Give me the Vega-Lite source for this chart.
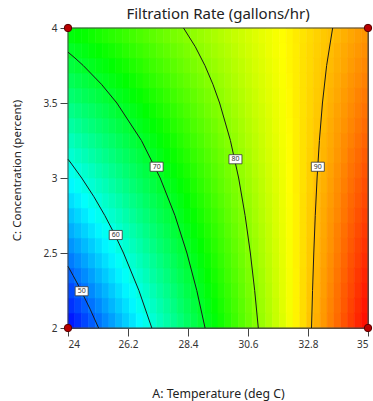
{
"$schema":"https://vega.github.io/schema/vega-lite/v6.json",
"width":300,"height":300,
"autosize":{"type":"none"},
"padding":{"left":68,"top":28,"right":5,"bottom":73},
"background":"white",
"title":{"text":"Filtration Rate (gallons/hr)","fontSize":15,"fontWeight":"normal","font":"Noto Sans","color":"#222","offset":0},
"config":{
 "view":{"stroke":"#444","strokeWidth":1},
 "axis":{"domainColor":"#444","tickColor":"#444","tickSize":8,"labelFont":"Noto Sans","labelFontSize":10,"labelColor":"#333","titleFont":"Noto Sans","titleFontWeight":"normal","titleColor":"#222","grid":false,"zindex":1},
 "axisX":{"labelPadding":3,"titlePadding":38,"titleFontSize":12.3},
 "axisY":{"labelPadding":3,"titlePadding":20,"titleFontSize":11.5,"titleY":142}
},
"datasets":{
"grid":[
{"t":24.125,"c":2.05,"r":45.6},{"t":24.375,"c":2.05,"r":46.8},{"t":24.625,"c":2.05,"r":48.1},{"t":24.875,"c":2.05,"r":49.4},{"t":25.125,"c":2.05,"r":50.6},{"t":25.375,"c":2.05,"r":51.9},{"t":25.625,"c":2.05,"r":53.1},{"t":25.875,"c":2.05,"r":54.4},{"t":26.125,"c":2.05,"r":55.7},{"t":26.375,"c":2.05,"r":56.9},{"t":26.625,"c":2.05,"r":58.2},{"t":26.875,"c":2.05,"r":59.4},{"t":27.125,"c":2.05,"r":60.7},{"t":27.375,"c":2.05,"r":62.0},{"t":27.625,"c":2.05,"r":63.2},{"t":27.875,"c":2.05,"r":64.5},{"t":28.125,"c":2.05,"r":65.7},{"t":28.375,"c":2.05,"r":67.0},{"t":28.625,"c":2.05,"r":68.3},{"t":28.875,"c":2.05,"r":69.5},{"t":29.125,"c":2.05,"r":70.8},{"t":29.375,"c":2.05,"r":72.0},{"t":29.625,"c":2.05,"r":73.3},{"t":29.875,"c":2.05,"r":74.6},{"t":30.125,"c":2.05,"r":75.8},{"t":30.375,"c":2.05,"r":77.1},{"t":30.625,"c":2.05,"r":78.4},{"t":30.875,"c":2.05,"r":79.6},{"t":31.125,"c":2.05,"r":80.9},{"t":31.375,"c":2.05,"r":82.1},{"t":31.625,"c":2.05,"r":83.4},{"t":31.875,"c":2.05,"r":84.6},{"t":32.125,"c":2.05,"r":85.9},{"t":32.375,"c":2.05,"r":87.2},{"t":32.625,"c":2.05,"r":88.4},{"t":32.875,"c":2.05,"r":89.7},{"t":33.125,"c":2.05,"r":91.0},{"t":33.375,"c":2.05,"r":92.2},{"t":33.625,"c":2.05,"r":93.5},{"t":33.875,"c":2.05,"r":94.7},{"t":34.125,"c":2.05,"r":96.0},{"t":34.375,"c":2.05,"r":97.2},{"t":34.625,"c":2.05,"r":98.5},{"t":34.875,"c":2.05,"r":99.8},
{"t":24.125,"c":2.15,"r":47.0},{"t":24.375,"c":2.15,"r":48.2},{"t":24.625,"c":2.15,"r":49.4},{"t":24.875,"c":2.15,"r":50.6},{"t":25.125,"c":2.15,"r":51.8},{"t":25.375,"c":2.15,"r":53.1},{"t":25.625,"c":2.15,"r":54.3},{"t":25.875,"c":2.15,"r":55.5},{"t":26.125,"c":2.15,"r":56.7},{"t":26.375,"c":2.15,"r":57.9},{"t":26.625,"c":2.15,"r":59.2},{"t":26.875,"c":2.15,"r":60.4},{"t":27.125,"c":2.15,"r":61.6},{"t":27.375,"c":2.15,"r":62.8},{"t":27.625,"c":2.15,"r":64.0},{"t":27.875,"c":2.15,"r":65.2},{"t":28.125,"c":2.15,"r":66.5},{"t":28.375,"c":2.15,"r":67.7},{"t":28.625,"c":2.15,"r":68.9},{"t":28.875,"c":2.15,"r":70.1},{"t":29.125,"c":2.15,"r":71.3},{"t":29.375,"c":2.15,"r":72.6},{"t":29.625,"c":2.15,"r":73.8},{"t":29.875,"c":2.15,"r":75.0},{"t":30.125,"c":2.15,"r":76.2},{"t":30.375,"c":2.15,"r":77.4},{"t":30.625,"c":2.15,"r":78.7},{"t":30.875,"c":2.15,"r":79.9},{"t":31.125,"c":2.15,"r":81.1},{"t":31.375,"c":2.15,"r":82.3},{"t":31.625,"c":2.15,"r":83.5},{"t":31.875,"c":2.15,"r":84.8},{"t":32.125,"c":2.15,"r":86.0},{"t":32.375,"c":2.15,"r":87.2},{"t":32.625,"c":2.15,"r":88.4},{"t":32.875,"c":2.15,"r":89.6},{"t":33.125,"c":2.15,"r":90.8},{"t":33.375,"c":2.15,"r":92.1},{"t":33.625,"c":2.15,"r":93.3},{"t":33.875,"c":2.15,"r":94.5},{"t":34.125,"c":2.15,"r":95.7},{"t":34.375,"c":2.15,"r":96.9},{"t":34.625,"c":2.15,"r":98.2},{"t":34.875,"c":2.15,"r":99.4},
{"t":24.125,"c":2.25,"r":48.3},{"t":24.375,"c":2.25,"r":49.5},{"t":24.625,"c":2.25,"r":50.7},{"t":24.875,"c":2.25,"r":51.9},{"t":25.125,"c":2.25,"r":53.1},{"t":25.375,"c":2.25,"r":54.2},{"t":25.625,"c":2.25,"r":55.4},{"t":25.875,"c":2.25,"r":56.6},{"t":26.125,"c":2.25,"r":57.8},{"t":26.375,"c":2.25,"r":58.9},{"t":26.625,"c":2.25,"r":60.1},{"t":26.875,"c":2.25,"r":61.3},{"t":27.125,"c":2.25,"r":62.5},{"t":27.375,"c":2.25,"r":63.7},{"t":27.625,"c":2.25,"r":64.8},{"t":27.875,"c":2.25,"r":66.0},{"t":28.125,"c":2.25,"r":67.2},{"t":28.375,"c":2.25,"r":68.4},{"t":28.625,"c":2.25,"r":69.5},{"t":28.875,"c":2.25,"r":70.7},{"t":29.125,"c":2.25,"r":71.9},{"t":29.375,"c":2.25,"r":73.1},{"t":29.625,"c":2.25,"r":74.3},{"t":29.875,"c":2.25,"r":75.4},{"t":30.125,"c":2.25,"r":76.6},{"t":30.375,"c":2.25,"r":77.8},{"t":30.625,"c":2.25,"r":79.0},{"t":30.875,"c":2.25,"r":80.1},{"t":31.125,"c":2.25,"r":81.3},{"t":31.375,"c":2.25,"r":82.5},{"t":31.625,"c":2.25,"r":83.7},{"t":31.875,"c":2.25,"r":84.9},{"t":32.125,"c":2.25,"r":86.0},{"t":32.375,"c":2.25,"r":87.2},{"t":32.625,"c":2.25,"r":88.4},{"t":32.875,"c":2.25,"r":89.6},{"t":33.125,"c":2.25,"r":90.7},{"t":33.375,"c":2.25,"r":91.9},{"t":33.625,"c":2.25,"r":93.1},{"t":33.875,"c":2.25,"r":94.3},{"t":34.125,"c":2.25,"r":95.5},{"t":34.375,"c":2.25,"r":96.6},{"t":34.625,"c":2.25,"r":97.8},{"t":34.875,"c":2.25,"r":99.0},
{"t":24.125,"c":2.35,"r":49.7},{"t":24.375,"c":2.35,"r":50.9},{"t":24.625,"c":2.35,"r":52.0},{"t":24.875,"c":2.35,"r":53.1},{"t":25.125,"c":2.35,"r":54.3},{"t":25.375,"c":2.35,"r":55.4},{"t":25.625,"c":2.35,"r":56.5},{"t":25.875,"c":2.35,"r":57.7},{"t":26.125,"c":2.35,"r":58.8},{"t":26.375,"c":2.35,"r":60.0},{"t":26.625,"c":2.35,"r":61.1},{"t":26.875,"c":2.35,"r":62.2},{"t":27.125,"c":2.35,"r":63.4},{"t":27.375,"c":2.35,"r":64.5},{"t":27.625,"c":2.35,"r":65.6},{"t":27.875,"c":2.35,"r":66.8},{"t":28.125,"c":2.35,"r":67.9},{"t":28.375,"c":2.35,"r":69.0},{"t":28.625,"c":2.35,"r":70.2},{"t":28.875,"c":2.35,"r":71.3},{"t":29.125,"c":2.35,"r":72.5},{"t":29.375,"c":2.35,"r":73.6},{"t":29.625,"c":2.35,"r":74.7},{"t":29.875,"c":2.35,"r":75.9},{"t":30.125,"c":2.35,"r":77.0},{"t":30.375,"c":2.35,"r":78.1},{"t":30.625,"c":2.35,"r":79.3},{"t":30.875,"c":2.35,"r":80.4},{"t":31.125,"c":2.35,"r":81.5},{"t":31.375,"c":2.35,"r":82.7},{"t":31.625,"c":2.35,"r":83.8},{"t":31.875,"c":2.35,"r":85.0},{"t":32.125,"c":2.35,"r":86.1},{"t":32.375,"c":2.35,"r":87.2},{"t":32.625,"c":2.35,"r":88.4},{"t":32.875,"c":2.35,"r":89.5},{"t":33.125,"c":2.35,"r":90.6},{"t":33.375,"c":2.35,"r":91.8},{"t":33.625,"c":2.35,"r":92.9},{"t":33.875,"c":2.35,"r":94.1},{"t":34.125,"c":2.35,"r":95.2},{"t":34.375,"c":2.35,"r":96.3},{"t":34.625,"c":2.35,"r":97.5},{"t":34.875,"c":2.35,"r":98.6},
{"t":24.125,"c":2.45,"r":51.1},{"t":24.375,"c":2.45,"r":52.2},{"t":24.625,"c":2.45,"r":53.3},{"t":24.875,"c":2.45,"r":54.4},{"t":25.125,"c":2.45,"r":55.5},{"t":25.375,"c":2.45,"r":56.6},{"t":25.625,"c":2.45,"r":57.7},{"t":25.875,"c":2.45,"r":58.8},{"t":26.125,"c":2.45,"r":59.9},{"t":26.375,"c":2.45,"r":61.0},{"t":26.625,"c":2.45,"r":62.1},{"t":26.875,"c":2.45,"r":63.1},{"t":27.125,"c":2.45,"r":64.2},{"t":27.375,"c":2.45,"r":65.3},{"t":27.625,"c":2.45,"r":66.4},{"t":27.875,"c":2.45,"r":67.5},{"t":28.125,"c":2.45,"r":68.6},{"t":28.375,"c":2.45,"r":69.7},{"t":28.625,"c":2.45,"r":70.8},{"t":28.875,"c":2.45,"r":71.9},{"t":29.125,"c":2.45,"r":73.0},{"t":29.375,"c":2.45,"r":74.1},{"t":29.625,"c":2.45,"r":75.2},{"t":29.875,"c":2.45,"r":76.3},{"t":30.125,"c":2.45,"r":77.4},{"t":30.375,"c":2.45,"r":78.5},{"t":30.625,"c":2.45,"r":79.6},{"t":30.875,"c":2.45,"r":80.7},{"t":31.125,"c":2.45,"r":81.8},{"t":31.375,"c":2.45,"r":82.9},{"t":31.625,"c":2.45,"r":84.0},{"t":31.875,"c":2.45,"r":85.1},{"t":32.125,"c":2.45,"r":86.2},{"t":32.375,"c":2.45,"r":87.3},{"t":32.625,"c":2.45,"r":88.3},{"t":32.875,"c":2.45,"r":89.4},{"t":33.125,"c":2.45,"r":90.5},{"t":33.375,"c":2.45,"r":91.6},{"t":33.625,"c":2.45,"r":92.7},{"t":33.875,"c":2.45,"r":93.8},{"t":34.125,"c":2.45,"r":94.9},{"t":34.375,"c":2.45,"r":96.0},{"t":34.625,"c":2.45,"r":97.1},{"t":34.875,"c":2.45,"r":98.2},
{"t":24.125,"c":2.55,"r":52.5},{"t":24.375,"c":2.55,"r":53.5},{"t":24.625,"c":2.55,"r":54.6},{"t":24.875,"c":2.55,"r":55.6},{"t":25.125,"c":2.55,"r":56.7},{"t":25.375,"c":2.55,"r":57.8},{"t":25.625,"c":2.55,"r":58.8},{"t":25.875,"c":2.55,"r":59.9},{"t":26.125,"c":2.55,"r":60.9},{"t":26.375,"c":2.55,"r":62.0},{"t":26.625,"c":2.55,"r":63.0},{"t":26.875,"c":2.55,"r":64.1},{"t":27.125,"c":2.55,"r":65.1},{"t":27.375,"c":2.55,"r":66.2},{"t":27.625,"c":2.55,"r":67.2},{"t":27.875,"c":2.55,"r":68.3},{"t":28.125,"c":2.55,"r":69.3},{"t":28.375,"c":2.55,"r":70.4},{"t":28.625,"c":2.55,"r":71.5},{"t":28.875,"c":2.55,"r":72.5},{"t":29.125,"c":2.55,"r":73.6},{"t":29.375,"c":2.55,"r":74.6},{"t":29.625,"c":2.55,"r":75.7},{"t":29.875,"c":2.55,"r":76.7},{"t":30.125,"c":2.55,"r":77.8},{"t":30.375,"c":2.55,"r":78.8},{"t":30.625,"c":2.55,"r":79.9},{"t":30.875,"c":2.55,"r":80.9},{"t":31.125,"c":2.55,"r":82.0},{"t":31.375,"c":2.55,"r":83.1},{"t":31.625,"c":2.55,"r":84.1},{"t":31.875,"c":2.55,"r":85.2},{"t":32.125,"c":2.55,"r":86.2},{"t":32.375,"c":2.55,"r":87.3},{"t":32.625,"c":2.55,"r":88.3},{"t":32.875,"c":2.55,"r":89.4},{"t":33.125,"c":2.55,"r":90.4},{"t":33.375,"c":2.55,"r":91.5},{"t":33.625,"c":2.55,"r":92.5},{"t":33.875,"c":2.55,"r":93.6},{"t":34.125,"c":2.55,"r":94.7},{"t":34.375,"c":2.55,"r":95.7},{"t":34.625,"c":2.55,"r":96.8},{"t":34.875,"c":2.55,"r":97.8},
{"t":24.125,"c":2.65,"r":53.9},{"t":24.375,"c":2.65,"r":54.9},{"t":24.625,"c":2.65,"r":55.9},{"t":24.875,"c":2.65,"r":56.9},{"t":25.125,"c":2.65,"r":57.9},{"t":25.375,"c":2.65,"r":58.9},{"t":25.625,"c":2.65,"r":59.9},{"t":25.875,"c":2.65,"r":61.0},{"t":26.125,"c":2.65,"r":62.0},{"t":26.375,"c":2.65,"r":63.0},{"t":26.625,"c":2.65,"r":64.0},{"t":26.875,"c":2.65,"r":65.0},{"t":27.125,"c":2.65,"r":66.0},{"t":27.375,"c":2.65,"r":67.0},{"t":27.625,"c":2.65,"r":68.0},{"t":27.875,"c":2.65,"r":69.1},{"t":28.125,"c":2.65,"r":70.1},{"t":28.375,"c":2.65,"r":71.1},{"t":28.625,"c":2.65,"r":72.1},{"t":28.875,"c":2.65,"r":73.1},{"t":29.125,"c":2.65,"r":74.1},{"t":29.375,"c":2.65,"r":75.1},{"t":29.625,"c":2.65,"r":76.1},{"t":29.875,"c":2.65,"r":77.2},{"t":30.125,"c":2.65,"r":78.2},{"t":30.375,"c":2.65,"r":79.2},{"t":30.625,"c":2.65,"r":80.2},{"t":30.875,"c":2.65,"r":81.2},{"t":31.125,"c":2.65,"r":82.2},{"t":31.375,"c":2.65,"r":83.2},{"t":31.625,"c":2.65,"r":84.3},{"t":31.875,"c":2.65,"r":85.3},{"t":32.125,"c":2.65,"r":86.3},{"t":32.375,"c":2.65,"r":87.3},{"t":32.625,"c":2.65,"r":88.3},{"t":32.875,"c":2.65,"r":89.3},{"t":33.125,"c":2.65,"r":90.3},{"t":33.375,"c":2.65,"r":91.3},{"t":33.625,"c":2.65,"r":92.4},{"t":33.875,"c":2.65,"r":93.4},{"t":34.125,"c":2.65,"r":94.4},{"t":34.375,"c":2.65,"r":95.4},{"t":34.625,"c":2.65,"r":96.4},{"t":34.875,"c":2.65,"r":97.4},
{"t":24.125,"c":2.75,"r":55.2},{"t":24.375,"c":2.75,"r":56.2},{"t":24.625,"c":2.75,"r":57.2},{"t":24.875,"c":2.75,"r":58.2},{"t":25.125,"c":2.75,"r":59.1},{"t":25.375,"c":2.75,"r":60.1},{"t":25.625,"c":2.75,"r":61.1},{"t":25.875,"c":2.75,"r":62.0},{"t":26.125,"c":2.75,"r":63.0},{"t":26.375,"c":2.75,"r":64.0},{"t":26.625,"c":2.75,"r":65.0},{"t":26.875,"c":2.75,"r":65.9},{"t":27.125,"c":2.75,"r":66.9},{"t":27.375,"c":2.75,"r":67.9},{"t":27.625,"c":2.75,"r":68.8},{"t":27.875,"c":2.75,"r":69.8},{"t":28.125,"c":2.75,"r":70.8},{"t":28.375,"c":2.75,"r":71.8},{"t":28.625,"c":2.75,"r":72.7},{"t":28.875,"c":2.75,"r":73.7},{"t":29.125,"c":2.75,"r":74.7},{"t":29.375,"c":2.75,"r":75.6},{"t":29.625,"c":2.75,"r":76.6},{"t":29.875,"c":2.75,"r":77.6},{"t":30.125,"c":2.75,"r":78.6},{"t":30.375,"c":2.75,"r":79.5},{"t":30.625,"c":2.75,"r":80.5},{"t":30.875,"c":2.75,"r":81.5},{"t":31.125,"c":2.75,"r":82.5},{"t":31.375,"c":2.75,"r":83.4},{"t":31.625,"c":2.75,"r":84.4},{"t":31.875,"c":2.75,"r":85.4},{"t":32.125,"c":2.75,"r":86.3},{"t":32.375,"c":2.75,"r":87.3},{"t":32.625,"c":2.75,"r":88.3},{"t":32.875,"c":2.75,"r":89.3},{"t":33.125,"c":2.75,"r":90.2},{"t":33.375,"c":2.75,"r":91.2},{"t":33.625,"c":2.75,"r":92.2},{"t":33.875,"c":2.75,"r":93.1},{"t":34.125,"c":2.75,"r":94.1},{"t":34.375,"c":2.75,"r":95.1},{"t":34.625,"c":2.75,"r":96.1},{"t":34.875,"c":2.75,"r":97.0},
{"t":24.125,"c":2.85,"r":56.6},{"t":24.375,"c":2.85,"r":57.5},{"t":24.625,"c":2.85,"r":58.5},{"t":24.875,"c":2.85,"r":59.4},{"t":25.125,"c":2.85,"r":60.3},{"t":25.375,"c":2.85,"r":61.3},{"t":25.625,"c":2.85,"r":62.2},{"t":25.875,"c":2.85,"r":63.1},{"t":26.125,"c":2.85,"r":64.1},{"t":26.375,"c":2.85,"r":65.0},{"t":26.625,"c":2.85,"r":65.9},{"t":26.875,"c":2.85,"r":66.9},{"t":27.125,"c":2.85,"r":67.8},{"t":27.375,"c":2.85,"r":68.7},{"t":27.625,"c":2.85,"r":69.6},{"t":27.875,"c":2.85,"r":70.6},{"t":28.125,"c":2.85,"r":71.5},{"t":28.375,"c":2.85,"r":72.4},{"t":28.625,"c":2.85,"r":73.4},{"t":28.875,"c":2.85,"r":74.3},{"t":29.125,"c":2.85,"r":75.2},{"t":29.375,"c":2.85,"r":76.2},{"t":29.625,"c":2.85,"r":77.1},{"t":29.875,"c":2.85,"r":78.0},{"t":30.125,"c":2.85,"r":79.0},{"t":30.375,"c":2.85,"r":79.9},{"t":30.625,"c":2.85,"r":80.8},{"t":30.875,"c":2.85,"r":81.7},{"t":31.125,"c":2.85,"r":82.7},{"t":31.375,"c":2.85,"r":83.6},{"t":31.625,"c":2.85,"r":84.5},{"t":31.875,"c":2.85,"r":85.5},{"t":32.125,"c":2.85,"r":86.4},{"t":32.375,"c":2.85,"r":87.3},{"t":32.625,"c":2.85,"r":88.3},{"t":32.875,"c":2.85,"r":89.2},{"t":33.125,"c":2.85,"r":90.1},{"t":33.375,"c":2.85,"r":91.1},{"t":33.625,"c":2.85,"r":92.0},{"t":33.875,"c":2.85,"r":92.9},{"t":34.125,"c":2.85,"r":93.9},{"t":34.375,"c":2.85,"r":94.8},{"t":34.625,"c":2.85,"r":95.7},{"t":34.875,"c":2.85,"r":96.6},
{"t":24.125,"c":2.95,"r":58.0},{"t":24.375,"c":2.95,"r":58.9},{"t":24.625,"c":2.95,"r":59.8},{"t":24.875,"c":2.95,"r":60.7},{"t":25.125,"c":2.95,"r":61.6},{"t":25.375,"c":2.95,"r":62.4},{"t":25.625,"c":2.95,"r":63.3},{"t":25.875,"c":2.95,"r":64.2},{"t":26.125,"c":2.95,"r":65.1},{"t":26.375,"c":2.95,"r":66.0},{"t":26.625,"c":2.95,"r":66.9},{"t":26.875,"c":2.95,"r":67.8},{"t":27.125,"c":2.95,"r":68.7},{"t":27.375,"c":2.95,"r":69.6},{"t":27.625,"c":2.95,"r":70.5},{"t":27.875,"c":2.95,"r":71.3},{"t":28.125,"c":2.95,"r":72.2},{"t":28.375,"c":2.95,"r":73.1},{"t":28.625,"c":2.95,"r":74.0},{"t":28.875,"c":2.95,"r":74.9},{"t":29.125,"c":2.95,"r":75.8},{"t":29.375,"c":2.95,"r":76.7},{"t":29.625,"c":2.95,"r":77.6},{"t":29.875,"c":2.95,"r":78.5},{"t":30.125,"c":2.95,"r":79.3},{"t":30.375,"c":2.95,"r":80.2},{"t":30.625,"c":2.95,"r":81.1},{"t":30.875,"c":2.95,"r":82.0},{"t":31.125,"c":2.95,"r":82.9},{"t":31.375,"c":2.95,"r":83.8},{"t":31.625,"c":2.95,"r":84.7},{"t":31.875,"c":2.95,"r":85.6},{"t":32.125,"c":2.95,"r":86.5},{"t":32.375,"c":2.95,"r":87.4},{"t":32.625,"c":2.95,"r":88.2},{"t":32.875,"c":2.95,"r":89.1},{"t":33.125,"c":2.95,"r":90.0},{"t":33.375,"c":2.95,"r":90.9},{"t":33.625,"c":2.95,"r":91.8},{"t":33.875,"c":2.95,"r":92.7},{"t":34.125,"c":2.95,"r":93.6},{"t":34.375,"c":2.95,"r":94.5},{"t":34.625,"c":2.95,"r":95.4},{"t":34.875,"c":2.95,"r":96.3},
{"t":24.125,"c":3.05,"r":59.4},{"t":24.375,"c":3.05,"r":60.2},{"t":24.625,"c":3.05,"r":61.1},{"t":24.875,"c":3.05,"r":61.9},{"t":25.125,"c":3.05,"r":62.8},{"t":25.375,"c":3.05,"r":63.6},{"t":25.625,"c":3.05,"r":64.5},{"t":25.875,"c":3.05,"r":65.3},{"t":26.125,"c":3.05,"r":66.2},{"t":26.375,"c":3.05,"r":67.0},{"t":26.625,"c":3.05,"r":67.9},{"t":26.875,"c":3.05,"r":68.7},{"t":27.125,"c":3.05,"r":69.6},{"t":27.375,"c":3.05,"r":70.4},{"t":27.625,"c":3.05,"r":71.3},{"t":27.875,"c":3.05,"r":72.1},{"t":28.125,"c":3.05,"r":73.0},{"t":28.375,"c":3.05,"r":73.8},{"t":28.625,"c":3.05,"r":74.6},{"t":28.875,"c":3.05,"r":75.5},{"t":29.125,"c":3.05,"r":76.3},{"t":29.375,"c":3.05,"r":77.2},{"t":29.625,"c":3.05,"r":78.0},{"t":29.875,"c":3.05,"r":78.9},{"t":30.125,"c":3.05,"r":79.7},{"t":30.375,"c":3.05,"r":80.6},{"t":30.625,"c":3.05,"r":81.4},{"t":30.875,"c":3.05,"r":82.3},{"t":31.125,"c":3.05,"r":83.1},{"t":31.375,"c":3.05,"r":84.0},{"t":31.625,"c":3.05,"r":84.8},{"t":31.875,"c":3.05,"r":85.7},{"t":32.125,"c":3.05,"r":86.5},{"t":32.375,"c":3.05,"r":87.4},{"t":32.625,"c":3.05,"r":88.2},{"t":32.875,"c":3.05,"r":89.1},{"t":33.125,"c":3.05,"r":89.9},{"t":33.375,"c":3.05,"r":90.8},{"t":33.625,"c":3.05,"r":91.6},{"t":33.875,"c":3.05,"r":92.5},{"t":34.125,"c":3.05,"r":93.3},{"t":34.375,"c":3.05,"r":94.2},{"t":34.625,"c":3.05,"r":95.0},{"t":34.875,"c":3.05,"r":95.9},
{"t":24.125,"c":3.15,"r":60.8},{"t":24.375,"c":3.15,"r":61.6},{"t":24.625,"c":3.15,"r":62.4},{"t":24.875,"c":3.15,"r":63.2},{"t":25.125,"c":3.15,"r":64.0},{"t":25.375,"c":3.15,"r":64.8},{"t":25.625,"c":3.15,"r":65.6},{"t":25.875,"c":3.15,"r":66.4},{"t":26.125,"c":3.15,"r":67.2},{"t":26.375,"c":3.15,"r":68.0},{"t":26.625,"c":3.15,"r":68.8},{"t":26.875,"c":3.15,"r":69.6},{"t":27.125,"c":3.15,"r":70.4},{"t":27.375,"c":3.15,"r":71.2},{"t":27.625,"c":3.15,"r":72.1},{"t":27.875,"c":3.15,"r":72.9},{"t":28.125,"c":3.15,"r":73.7},{"t":28.375,"c":3.15,"r":74.5},{"t":28.625,"c":3.15,"r":75.3},{"t":28.875,"c":3.15,"r":76.1},{"t":29.125,"c":3.15,"r":76.9},{"t":29.375,"c":3.15,"r":77.7},{"t":29.625,"c":3.15,"r":78.5},{"t":29.875,"c":3.15,"r":79.3},{"t":30.125,"c":3.15,"r":80.1},{"t":30.375,"c":3.15,"r":80.9},{"t":30.625,"c":3.15,"r":81.7},{"t":30.875,"c":3.15,"r":82.6},{"t":31.125,"c":3.15,"r":83.4},{"t":31.375,"c":3.15,"r":84.2},{"t":31.625,"c":3.15,"r":85.0},{"t":31.875,"c":3.15,"r":85.8},{"t":32.125,"c":3.15,"r":86.6},{"t":32.375,"c":3.15,"r":87.4},{"t":32.625,"c":3.15,"r":88.2},{"t":32.875,"c":3.15,"r":89.0},{"t":33.125,"c":3.15,"r":89.8},{"t":33.375,"c":3.15,"r":90.6},{"t":33.625,"c":3.15,"r":91.4},{"t":33.875,"c":3.15,"r":92.2},{"t":34.125,"c":3.15,"r":93.0},{"t":34.375,"c":3.15,"r":93.9},{"t":34.625,"c":3.15,"r":94.7},{"t":34.875,"c":3.15,"r":95.5},
{"t":24.125,"c":3.25,"r":62.1},{"t":24.375,"c":3.25,"r":62.9},{"t":24.625,"c":3.25,"r":63.7},{"t":24.875,"c":3.25,"r":64.4},{"t":25.125,"c":3.25,"r":65.2},{"t":25.375,"c":3.25,"r":66.0},{"t":25.625,"c":3.25,"r":66.7},{"t":25.875,"c":3.25,"r":67.5},{"t":26.125,"c":3.25,"r":68.3},{"t":26.375,"c":3.25,"r":69.0},{"t":26.625,"c":3.25,"r":69.8},{"t":26.875,"c":3.25,"r":70.6},{"t":27.125,"c":3.25,"r":71.3},{"t":27.375,"c":3.25,"r":72.1},{"t":27.625,"c":3.25,"r":72.9},{"t":27.875,"c":3.25,"r":73.6},{"t":28.125,"c":3.25,"r":74.4},{"t":28.375,"c":3.25,"r":75.2},{"t":28.625,"c":3.25,"r":75.9},{"t":28.875,"c":3.25,"r":76.7},{"t":29.125,"c":3.25,"r":77.5},{"t":29.375,"c":3.25,"r":78.2},{"t":29.625,"c":3.25,"r":79.0},{"t":29.875,"c":3.25,"r":79.8},{"t":30.125,"c":3.25,"r":80.5},{"t":30.375,"c":3.25,"r":81.3},{"t":30.625,"c":3.25,"r":82.1},{"t":30.875,"c":3.25,"r":82.8},{"t":31.125,"c":3.25,"r":83.6},{"t":31.375,"c":3.25,"r":84.4},{"t":31.625,"c":3.25,"r":85.1},{"t":31.875,"c":3.25,"r":85.9},{"t":32.125,"c":3.25,"r":86.6},{"t":32.375,"c":3.25,"r":87.4},{"t":32.625,"c":3.25,"r":88.2},{"t":32.875,"c":3.25,"r":88.9},{"t":33.125,"c":3.25,"r":89.7},{"t":33.375,"c":3.25,"r":90.5},{"t":33.625,"c":3.25,"r":91.2},{"t":33.875,"c":3.25,"r":92.0},{"t":34.125,"c":3.25,"r":92.8},{"t":34.375,"c":3.25,"r":93.5},{"t":34.625,"c":3.25,"r":94.3},{"t":34.875,"c":3.25,"r":95.1},
{"t":24.125,"c":3.35,"r":63.5},{"t":24.375,"c":3.35,"r":64.2},{"t":24.625,"c":3.35,"r":65.0},{"t":24.875,"c":3.35,"r":65.7},{"t":25.125,"c":3.35,"r":66.4},{"t":25.375,"c":3.35,"r":67.1},{"t":25.625,"c":3.35,"r":67.9},{"t":25.875,"c":3.35,"r":68.6},{"t":26.125,"c":3.35,"r":69.3},{"t":26.375,"c":3.35,"r":70.0},{"t":26.625,"c":3.35,"r":70.8},{"t":26.875,"c":3.35,"r":71.5},{"t":27.125,"c":3.35,"r":72.2},{"t":27.375,"c":3.35,"r":72.9},{"t":27.625,"c":3.35,"r":73.7},{"t":27.875,"c":3.35,"r":74.4},{"t":28.125,"c":3.35,"r":75.1},{"t":28.375,"c":3.35,"r":75.8},{"t":28.625,"c":3.35,"r":76.6},{"t":28.875,"c":3.35,"r":77.3},{"t":29.125,"c":3.35,"r":78.0},{"t":29.375,"c":3.35,"r":78.7},{"t":29.625,"c":3.35,"r":79.5},{"t":29.875,"c":3.35,"r":80.2},{"t":30.125,"c":3.35,"r":80.9},{"t":30.375,"c":3.35,"r":81.6},{"t":30.625,"c":3.35,"r":82.4},{"t":30.875,"c":3.35,"r":83.1},{"t":31.125,"c":3.35,"r":83.8},{"t":31.375,"c":3.35,"r":84.5},{"t":31.625,"c":3.35,"r":85.3},{"t":31.875,"c":3.35,"r":86.0},{"t":32.125,"c":3.35,"r":86.7},{"t":32.375,"c":3.35,"r":87.4},{"t":32.625,"c":3.35,"r":88.2},{"t":32.875,"c":3.35,"r":88.9},{"t":33.125,"c":3.35,"r":89.6},{"t":33.375,"c":3.35,"r":90.3},{"t":33.625,"c":3.35,"r":91.1},{"t":33.875,"c":3.35,"r":91.8},{"t":34.125,"c":3.35,"r":92.5},{"t":34.375,"c":3.35,"r":93.2},{"t":34.625,"c":3.35,"r":94.0},{"t":34.875,"c":3.35,"r":94.7},
{"t":24.125,"c":3.45,"r":64.9},{"t":24.375,"c":3.45,"r":65.6},{"t":24.625,"c":3.45,"r":66.3},{"t":24.875,"c":3.45,"r":66.9},{"t":25.125,"c":3.45,"r":67.6},{"t":25.375,"c":3.45,"r":68.3},{"t":25.625,"c":3.45,"r":69.0},{"t":25.875,"c":3.45,"r":69.7},{"t":26.125,"c":3.45,"r":70.4},{"t":26.375,"c":3.45,"r":71.0},{"t":26.625,"c":3.45,"r":71.7},{"t":26.875,"c":3.45,"r":72.4},{"t":27.125,"c":3.45,"r":73.1},{"t":27.375,"c":3.45,"r":73.8},{"t":27.625,"c":3.45,"r":74.5},{"t":27.875,"c":3.45,"r":75.1},{"t":28.125,"c":3.45,"r":75.8},{"t":28.375,"c":3.45,"r":76.5},{"t":28.625,"c":3.45,"r":77.2},{"t":28.875,"c":3.45,"r":77.9},{"t":29.125,"c":3.45,"r":78.6},{"t":29.375,"c":3.45,"r":79.3},{"t":29.625,"c":3.45,"r":79.9},{"t":29.875,"c":3.45,"r":80.6},{"t":30.125,"c":3.45,"r":81.3},{"t":30.375,"c":3.45,"r":82.0},{"t":30.625,"c":3.45,"r":82.7},{"t":30.875,"c":3.45,"r":83.4},{"t":31.125,"c":3.45,"r":84.0},{"t":31.375,"c":3.45,"r":84.7},{"t":31.625,"c":3.45,"r":85.4},{"t":31.875,"c":3.45,"r":86.1},{"t":32.125,"c":3.45,"r":86.8},{"t":32.375,"c":3.45,"r":87.5},{"t":32.625,"c":3.45,"r":88.1},{"t":32.875,"c":3.45,"r":88.8},{"t":33.125,"c":3.45,"r":89.5},{"t":33.375,"c":3.45,"r":90.2},{"t":33.625,"c":3.45,"r":90.9},{"t":33.875,"c":3.45,"r":91.6},{"t":34.125,"c":3.45,"r":92.2},{"t":34.375,"c":3.45,"r":92.9},{"t":34.625,"c":3.45,"r":93.6},{"t":34.875,"c":3.45,"r":94.3},
{"t":24.125,"c":3.55,"r":66.3},{"t":24.375,"c":3.55,"r":66.9},{"t":24.625,"c":3.55,"r":67.6},{"t":24.875,"c":3.55,"r":68.2},{"t":25.125,"c":3.55,"r":68.8},{"t":25.375,"c":3.55,"r":69.5},{"t":25.625,"c":3.55,"r":70.1},{"t":25.875,"c":3.55,"r":70.8},{"t":26.125,"c":3.55,"r":71.4},{"t":26.375,"c":3.55,"r":72.1},{"t":26.625,"c":3.55,"r":72.7},{"t":26.875,"c":3.55,"r":73.3},{"t":27.125,"c":3.55,"r":74.0},{"t":27.375,"c":3.55,"r":74.6},{"t":27.625,"c":3.55,"r":75.3},{"t":27.875,"c":3.55,"r":75.9},{"t":28.125,"c":3.55,"r":76.6},{"t":28.375,"c":3.55,"r":77.2},{"t":28.625,"c":3.55,"r":77.8},{"t":28.875,"c":3.55,"r":78.5},{"t":29.125,"c":3.55,"r":79.1},{"t":29.375,"c":3.55,"r":79.8},{"t":29.625,"c":3.55,"r":80.4},{"t":29.875,"c":3.55,"r":81.1},{"t":30.125,"c":3.55,"r":81.7},{"t":30.375,"c":3.55,"r":82.3},{"t":30.625,"c":3.55,"r":83.0},{"t":30.875,"c":3.55,"r":83.6},{"t":31.125,"c":3.55,"r":84.3},{"t":31.375,"c":3.55,"r":84.9},{"t":31.625,"c":3.55,"r":85.5},{"t":31.875,"c":3.55,"r":86.2},{"t":32.125,"c":3.55,"r":86.8},{"t":32.375,"c":3.55,"r":87.5},{"t":32.625,"c":3.55,"r":88.1},{"t":32.875,"c":3.55,"r":88.8},{"t":33.125,"c":3.55,"r":89.4},{"t":33.375,"c":3.55,"r":90.0},{"t":33.625,"c":3.55,"r":90.7},{"t":33.875,"c":3.55,"r":91.3},{"t":34.125,"c":3.55,"r":92.0},{"t":34.375,"c":3.55,"r":92.6},{"t":34.625,"c":3.55,"r":93.3},{"t":34.875,"c":3.55,"r":93.9},
{"t":24.125,"c":3.65,"r":67.7},{"t":24.375,"c":3.65,"r":68.3},{"t":24.625,"c":3.65,"r":68.9},{"t":24.875,"c":3.65,"r":69.5},{"t":25.125,"c":3.65,"r":70.1},{"t":25.375,"c":3.65,"r":70.7},{"t":25.625,"c":3.65,"r":71.3},{"t":25.875,"c":3.65,"r":71.9},{"t":26.125,"c":3.65,"r":72.5},{"t":26.375,"c":3.65,"r":73.1},{"t":26.625,"c":3.65,"r":73.7},{"t":26.875,"c":3.65,"r":74.3},{"t":27.125,"c":3.65,"r":74.9},{"t":27.375,"c":3.65,"r":75.5},{"t":27.625,"c":3.65,"r":76.1},{"t":27.875,"c":3.65,"r":76.7},{"t":28.125,"c":3.65,"r":77.3},{"t":28.375,"c":3.65,"r":77.9},{"t":28.625,"c":3.65,"r":78.5},{"t":28.875,"c":3.65,"r":79.1},{"t":29.125,"c":3.65,"r":79.7},{"t":29.375,"c":3.65,"r":80.3},{"t":29.625,"c":3.65,"r":80.9},{"t":29.875,"c":3.65,"r":81.5},{"t":30.125,"c":3.65,"r":82.1},{"t":30.375,"c":3.65,"r":82.7},{"t":30.625,"c":3.65,"r":83.3},{"t":30.875,"c":3.65,"r":83.9},{"t":31.125,"c":3.65,"r":84.5},{"t":31.375,"c":3.65,"r":85.1},{"t":31.625,"c":3.65,"r":85.7},{"t":31.875,"c":3.65,"r":86.3},{"t":32.125,"c":3.65,"r":86.9},{"t":32.375,"c":3.65,"r":87.5},{"t":32.625,"c":3.65,"r":88.1},{"t":32.875,"c":3.65,"r":88.7},{"t":33.125,"c":3.65,"r":89.3},{"t":33.375,"c":3.65,"r":89.9},{"t":33.625,"c":3.65,"r":90.5},{"t":33.875,"c":3.65,"r":91.1},{"t":34.125,"c":3.65,"r":91.7},{"t":34.375,"c":3.65,"r":92.3},{"t":34.625,"c":3.65,"r":92.9},{"t":34.875,"c":3.65,"r":93.5},
{"t":24.125,"c":3.75,"r":69.0},{"t":24.375,"c":3.75,"r":69.6},{"t":24.625,"c":3.75,"r":70.2},{"t":24.875,"c":3.75,"r":70.7},{"t":25.125,"c":3.75,"r":71.3},{"t":25.375,"c":3.75,"r":71.8},{"t":25.625,"c":3.75,"r":72.4},{"t":25.875,"c":3.75,"r":73.0},{"t":26.125,"c":3.75,"r":73.5},{"t":26.375,"c":3.75,"r":74.1},{"t":26.625,"c":3.75,"r":74.6},{"t":26.875,"c":3.75,"r":75.2},{"t":27.125,"c":3.75,"r":75.8},{"t":27.375,"c":3.75,"r":76.3},{"t":27.625,"c":3.75,"r":76.9},{"t":27.875,"c":3.75,"r":77.4},{"t":28.125,"c":3.75,"r":78.0},{"t":28.375,"c":3.75,"r":78.6},{"t":28.625,"c":3.75,"r":79.1},{"t":28.875,"c":3.75,"r":79.7},{"t":29.125,"c":3.75,"r":80.2},{"t":29.375,"c":3.75,"r":80.8},{"t":29.625,"c":3.75,"r":81.4},{"t":29.875,"c":3.75,"r":81.9},{"t":30.125,"c":3.75,"r":82.5},{"t":30.375,"c":3.75,"r":83.0},{"t":30.625,"c":3.75,"r":83.6},{"t":30.875,"c":3.75,"r":84.2},{"t":31.125,"c":3.75,"r":84.7},{"t":31.375,"c":3.75,"r":85.3},{"t":31.625,"c":3.75,"r":85.8},{"t":31.875,"c":3.75,"r":86.4},{"t":32.125,"c":3.75,"r":87.0},{"t":32.375,"c":3.75,"r":87.5},{"t":32.625,"c":3.75,"r":88.1},{"t":32.875,"c":3.75,"r":88.6},{"t":33.125,"c":3.75,"r":89.2},{"t":33.375,"c":3.75,"r":89.8},{"t":33.625,"c":3.75,"r":90.3},{"t":33.875,"c":3.75,"r":90.9},{"t":34.125,"c":3.75,"r":91.4},{"t":34.375,"c":3.75,"r":92.0},{"t":34.625,"c":3.75,"r":92.6},{"t":34.875,"c":3.75,"r":93.1},
{"t":24.125,"c":3.85,"r":70.4},{"t":24.375,"c":3.85,"r":70.9},{"t":24.625,"c":3.85,"r":71.4},{"t":24.875,"c":3.85,"r":72.0},{"t":25.125,"c":3.85,"r":72.5},{"t":25.375,"c":3.85,"r":73.0},{"t":25.625,"c":3.85,"r":73.5},{"t":25.875,"c":3.85,"r":74.0},{"t":26.125,"c":3.85,"r":74.6},{"t":26.375,"c":3.85,"r":75.1},{"t":26.625,"c":3.85,"r":75.6},{"t":26.875,"c":3.85,"r":76.1},{"t":27.125,"c":3.85,"r":76.6},{"t":27.375,"c":3.85,"r":77.2},{"t":27.625,"c":3.85,"r":77.7},{"t":27.875,"c":3.85,"r":78.2},{"t":28.125,"c":3.85,"r":78.7},{"t":28.375,"c":3.85,"r":79.2},{"t":28.625,"c":3.85,"r":79.8},{"t":28.875,"c":3.85,"r":80.3},{"t":29.125,"c":3.85,"r":80.8},{"t":29.375,"c":3.85,"r":81.3},{"t":29.625,"c":3.85,"r":81.8},{"t":29.875,"c":3.85,"r":82.3},{"t":30.125,"c":3.85,"r":82.9},{"t":30.375,"c":3.85,"r":83.4},{"t":30.625,"c":3.85,"r":83.9},{"t":30.875,"c":3.85,"r":84.4},{"t":31.125,"c":3.85,"r":84.9},{"t":31.375,"c":3.85,"r":85.5},{"t":31.625,"c":3.85,"r":86.0},{"t":31.875,"c":3.85,"r":86.5},{"t":32.125,"c":3.85,"r":87.0},{"t":32.375,"c":3.85,"r":87.5},{"t":32.625,"c":3.85,"r":88.1},{"t":32.875,"c":3.85,"r":88.6},{"t":33.125,"c":3.85,"r":89.1},{"t":33.375,"c":3.85,"r":89.6},{"t":33.625,"c":3.85,"r":90.1},{"t":33.875,"c":3.85,"r":90.7},{"t":34.125,"c":3.85,"r":91.2},{"t":34.375,"c":3.85,"r":91.7},{"t":34.625,"c":3.85,"r":92.2},{"t":34.875,"c":3.85,"r":92.7},
{"t":24.125,"c":3.95,"r":71.8},{"t":24.375,"c":3.95,"r":72.3},{"t":24.625,"c":3.95,"r":72.7},{"t":24.875,"c":3.95,"r":73.2},{"t":25.125,"c":3.95,"r":73.7},{"t":25.375,"c":3.95,"r":74.2},{"t":25.625,"c":3.95,"r":74.7},{"t":25.875,"c":3.95,"r":75.1},{"t":26.125,"c":3.95,"r":75.6},{"t":26.375,"c":3.95,"r":76.1},{"t":26.625,"c":3.95,"r":76.6},{"t":26.875,"c":3.95,"r":77.0},{"t":27.125,"c":3.95,"r":77.5},{"t":27.375,"c":3.95,"r":78.0},{"t":27.625,"c":3.95,"r":78.5},{"t":27.875,"c":3.95,"r":79.0},{"t":28.125,"c":3.95,"r":79.4},{"t":28.375,"c":3.95,"r":79.9},{"t":28.625,"c":3.95,"r":80.4},{"t":28.875,"c":3.95,"r":80.9},{"t":29.125,"c":3.95,"r":81.3},{"t":29.375,"c":3.95,"r":81.8},{"t":29.625,"c":3.95,"r":82.3},{"t":29.875,"c":3.95,"r":82.8},{"t":30.125,"c":3.95,"r":83.3},{"t":30.375,"c":3.95,"r":83.7},{"t":30.625,"c":3.95,"r":84.2},{"t":30.875,"c":3.95,"r":84.7},{"t":31.125,"c":3.95,"r":85.2},{"t":31.375,"c":3.95,"r":85.6},{"t":31.625,"c":3.95,"r":86.1},{"t":31.875,"c":3.95,"r":86.6},{"t":32.125,"c":3.95,"r":87.1},{"t":32.375,"c":3.95,"r":87.6},{"t":32.625,"c":3.95,"r":88.0},{"t":32.875,"c":3.95,"r":88.5},{"t":33.125,"c":3.95,"r":89.0},{"t":33.375,"c":3.95,"r":89.5},{"t":33.625,"c":3.95,"r":89.9},{"t":33.875,"c":3.95,"r":90.4},{"t":34.125,"c":3.95,"r":90.9},{"t":34.375,"c":3.95,"r":91.4},{"t":34.625,"c":3.95,"r":91.9},{"t":34.875,"c":3.95,"r":92.3}
],
"contours":[
{"level":50,"t":25.122,"c":2.0},{"level":50,"t":24.813,"c":2.125},{"level":50,"t":24.477,"c":2.25},{"level":50,"t":24.335,"c":2.3},{"level":50,"t":24.187,"c":2.35},{"level":50,"t":24.0,"c":2.411},
{"level":60,"t":27.074,"c":2.0},{"level":60,"t":26.6,"c":2.25},{"level":60,"t":26.035,"c":2.5},{"level":60,"t":25.71,"c":2.625},{"level":60,"t":25.35,"c":2.75},{"level":60,"t":24.951,"c":2.875},{"level":60,"t":24.503,"c":3.0},{"level":60,"t":24.106,"c":3.1},{"level":60,"t":24.0,"c":3.125},
{"level":70,"t":29.026,"c":2.0},{"level":70,"t":28.722,"c":2.25},{"level":70,"t":28.36,"c":2.5},{"level":70,"t":27.922,"c":2.75},{"level":70,"t":27.38,"c":3.0},{"level":70,"t":26.692,"c":3.25},{"level":70,"t":25.791,"c":3.5},{"level":70,"t":25.226,"c":3.625},{"level":70,"t":24.558,"c":3.75},{"level":70,"t":24.255,"c":3.8},{"level":70,"t":24.0,"c":3.839},
{"level":80,"t":30.978,"c":2.0},{"level":80,"t":30.845,"c":2.25},{"level":80,"t":30.686,"c":2.5},{"level":80,"t":30.494,"c":2.75},{"level":80,"t":30.257,"c":3.0},{"level":80,"t":29.955,"c":3.25},{"level":80,"t":29.56,"c":3.5},{"level":80,"t":29.313,"c":3.625},{"level":80,"t":29.02,"c":3.75},{"level":80,"t":28.668,"c":3.875},{"level":80,"t":28.237,"c":4.0},
{"level":90,"t":32.929,"c":2.0},{"level":90,"t":32.967,"c":2.25},{"level":90,"t":33.012,"c":2.5},{"level":90,"t":33.066,"c":2.75},{"level":90,"t":33.133,"c":3.0},{"level":90,"t":33.218,"c":3.25},{"level":90,"t":33.33,"c":3.5},{"level":90,"t":33.483,"c":3.75},{"level":90,"t":33.704,"c":4.0}
],
"labels":[
{"level":50,"t":24.5,"c":2.245},{"level":60,"t":25.75,"c":2.62},{"level":70,"t":27.25,"c":3.075},{"level":80,"t":30.14,"c":3.125},{"level":90,"t":33.16,"c":3.075}
],
"frame":[
{"t0":24,"t1":35,"c0":2,"c1":4}
],
"corners":[
{"t":24,"c":2},{"t":24,"c":4},{"t":35,"c":2},{"t":35,"c":4}
]
},
"resolve":{"scale":{"x":"independent","y":"independent"},"axis":{"x":"independent","y":"independent"}},
"layer":[
{"data":{"name":"grid"},
 "mark":{"type":"rect","strokeWidth":0.6},
 "encoding":{
  "x":{"field":"t","type":"ordinal","axis":null,"scale":{"paddingInner":0,"paddingOuter":0}},
  "y":{"field":"c","type":"ordinal","sort":"descending","axis":null,"scale":{"paddingInner":0,"paddingOuter":0}},
  "color":{"field":"r","type":"quantitative","legend":null,"scale":{"domain":[44.25,58.34,72.43,86.52,100.61],"range":["#0000ff","#00ffff","#00ff00","#ffff00","#ff0000"],"interpolate":"rgb"}},
  "stroke":{"field":"r","type":"quantitative","legend":null,"scale":{"domain":[44.25,58.34,72.43,86.52,100.61],"range":["#0000ff","#00ffff","#00ff00","#ffff00","#ff0000"],"interpolate":"rgb"}}
 }},
{"layer":[
 {"data":{"name":"frame"},
  "mark":{"type":"rect","filled":false,"stroke":"#444","strokeWidth":1},
  "encoding":{
   "x":{"field":"t0","type":"quantitative","title":"A: Temperature (deg C)"},
   "x2":{"field":"t1"},
   "y":{"field":"c0","type":"quantitative","title":"C: Concentration (percent)"},
   "y2":{"field":"c1"}
  }},
 {"data":{"name":"contours"},
  "mark":{"type":"line","color":"#1a1a1a","strokeWidth":1},
  "encoding":{
   "x":{"field":"t","type":"quantitative","scale":{"domain":[24,35],"nice":false,"zero":false},"axis":{"orient":"bottom","values":[24,26.2,28.4,30.6,32.8,35],"labelExpr":"datum.value + ''","title":"A: Temperature (deg C)"}},
   "y":{"field":"c","type":"quantitative","scale":{"domain":[2,4],"nice":false,"zero":false},"axis":{"orient":"left","values":[2,2.5,3,3.5,4],"labelExpr":"datum.value + ''","title":"C: Concentration (percent)"}},
   "detail":{"field":"level","type":"nominal"},
   "order":{"field":"c","type":"quantitative"}
  }},
 {"data":{"name":"labels"},
  "mark":{"type":"point","shape":"M-1,-0.7H1V0.7H-1Z","size":169,"filled":true,"fill":"white","stroke":"#333","strokeWidth":0.8,"opacity":1},
  "encoding":{
   "x":{"field":"t","type":"quantitative"},
   "y":{"field":"c","type":"quantitative"}
  }},
 {"data":{"name":"labels"},
  "mark":{"type":"text","font":"Noto Sans","fontSize":7,"color":"#333","align":"center","baseline":"middle"},
  "encoding":{
   "x":{"field":"t","type":"quantitative"},
   "y":{"field":"c","type":"quantitative"},
   "text":{"field":"level","type":"quantitative"}
  }},
 {"data":{"name":"corners"},
  "mark":{"type":"point","filled":true,"size":55,"fill":"#b80000","stroke":"#550000","strokeWidth":1,"opacity":1},
  "encoding":{
   "x":{"field":"t","type":"quantitative"},
   "y":{"field":"c","type":"quantitative"}
  }}
]}
]
}
